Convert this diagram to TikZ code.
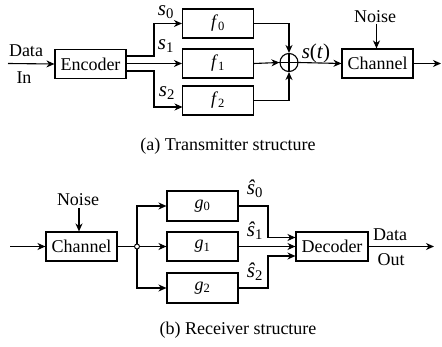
\documentclass[tikz,border=0pt]{standalone}
\usepackage{fontspec}
\setmainfont{Liberation Serif}
\usetikzlibrary{arrows.meta}
\begin{document}
\begin{tikzpicture}[x=1pt,y=-1pt,
  font=\fontsize{18}{21}\selectfont,
  line width=1.1pt,
  arr/.style={-{Stealth[length=8pt,width=7pt,inset=2.5pt]}},
  blk/.style={draw, minimum width=71pt, minimum height=29pt, inner sep=0pt},
  lbl/.style={inner sep=0pt},
  slbl/.style={inner sep=0pt, font=\fontsize{21}{24}\selectfont},
  sumnode/.style={draw, circle, minimum size=18pt, inner sep=0pt},
  jn/.style={draw, circle, fill=white, minimum size=5pt, inner sep=0pt, line width=0.9pt}]
\useasboundingbox (0,0) rectangle (442,347);
% ---------- Transmitter ----------
\coordinate (din) at (8,63.5);
\node[blk] (enc) at (90.5,64) {Encoder};
\node[lbl] (ldata) at (26,51) {Data};
\node[lbl] (lin) at (24,78) {In};
\draw[arr] (din) -- (enc.west);
\node[blk] (f0) at (218,23.5) {\textit{f}\textsubscript{0}};
\node[blk] (f1) at (218,63.5) {\textit{f}\textsubscript{1}};
\node[blk] (f2) at (218,100.5) {\textit{f}\textsubscript{2}};
\coordinate (e0) at (126,56);
\coordinate (e1) at (126,63.5);
\coordinate (e2) at (126,71);
\coordinate (b0) at (154,56);
\coordinate (b2) at (154,71);
\coordinate (f2in) at (182.5,107);
\draw[arr] (e0) -- (b0) |- (f0.west);
\draw[arr] (e1) -- (f1.west);
\draw[arr] (e2) -- (b2) |- (f2in);
\node[slbl] (s0) at (166,12.5) {\textit{s}\textsubscript{0}};
\node[slbl] (s1) at (166,46) {\textit{s}\textsubscript{1}};
\node[slbl] (s2) at (167,93) {\textit{s}\textsubscript{2}};
\node[sumnode] (sum) at (289,62.5) {};
\draw[line width=1.1pt] (sum.north) -- (sum.south) (sum.west) -- (sum.east);
\draw[arr] (f0.east) -| (sum.north);
\draw[arr] (f1.east) -- (sum.west);
\draw[arr] (f2.east) -| (sum.south);
\node[blk] (ch1) at (377.5,63.5) {Channel};
\draw[arr] (sum.east) -- (ch1.west);
\node[slbl] (st) at (316,53) {\textit{s}(\textit{t})};
\node[lbl] (n1) at (375,17) {Noise};
\coordinate (n1a) at (376.5,24);
\draw[arr] (n1a) -- (ch1.north -| n1a);
\coordinate (out1) at (441,63.5);
\draw[arr] (ch1.east) -- (out1);
\node[lbl] (capa) at (228,146) {(a) Transmitter structure};
% ---------- Receiver ----------
\coordinate (rin) at (10,246.5);
\node[blk] (ch2) at (81.5,246.5) {Channel};
\draw[arr] (rin) -- (ch2.west);
\node[lbl] (n2) at (78,200) {Noise};
\coordinate (n2a) at (79,208);
\draw[arr] (n2a) -- (ch2.north -| n2a);
\node[blk, minimum height=30pt] (g0) at (202.5,206) {\textit{g}\textsubscript{0}};
\node[blk] (g1) at (202.5,246.5) {\textit{g}\textsubscript{1}};
\node[blk, minimum height=30pt] (g2) at (202.5,288) {\textit{g}\textsubscript{2}};
\node[jn] (jun) at (137,246.5) {};
\draw (ch2.east) -- (jun.west);
\draw[arr] (jun.north) |- (g0.west);
\draw[arr] (jun.east) -- (g1.west);
\draw[arr] (jun.south) |- (g2.west);
\node[blk, minimum width=72pt] (dec) at (332,246.5) {Decoder};
\coordinate (c0) at (268,206);
\coordinate (d0) at (dec.west |- 0,237.5);
\coordinate (c2) at (268,288);
\coordinate (d2) at (dec.west |- 0,256);
\draw[arr] (g0.east) -- (c0) |- (d0);
\draw[arr] (g1.east) -- (dec.west);
\draw[arr] (g2.east) -- (c2) |- (d2);
\node[slbl] (h0) at (255,189) {\textit{ŝ}\textsubscript{0}};
\node[slbl] (h1) at (255,231) {\textit{ŝ}\textsubscript{1}};
\node[slbl] (h2) at (255,272) {\textit{ŝ}\textsubscript{2}};
\coordinate (out2) at (434,246.5);
\draw[arr] (dec.east) -- (out2);
\node[lbl] (ldo) at (390,235) {Data};
\node[lbl] (lout) at (391,260) {Out};
\node[lbl] (capb) at (238,330) {(b) Receiver structure};
\end{tikzpicture}
\end{document}
